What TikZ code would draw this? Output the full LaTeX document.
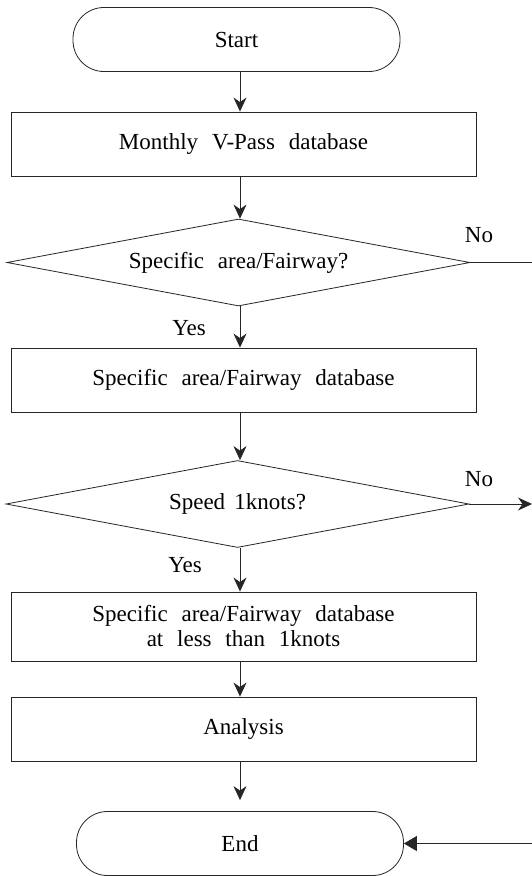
\documentclass[tikz,border=0pt]{standalone}
\usepackage{fontspec}
\setmainfont{Liberation Serif}
\usetikzlibrary{shapes.geometric,arrows.meta}
\newcommand\flowfont{\fontsize{23}{25}\selectfont\spaceskip 0.6em plus 0pt minus 0pt\relax}
\newcommand\flowfontnarrow{\fontsize{23}{25}\selectfont\spaceskip 0.4em plus 0pt minus 0pt\relax}
\tikzset{
  txt/.style={font=\flowfont},
  box/.style={txt, draw=black!85, line width=0.9pt, minimum width=465pt, minimum height=64pt, inner sep=0pt, align=center},
  term/.style={txt, draw=black!85, line width=0.8pt, rounded corners=31pt, minimum width=327pt, minimum height=64pt, inner sep=0pt},
  decision/.style={txt, draw=black!85, diamond, shape aspect=5.3, line width=0.8pt, minimum width=463pt, minimum height=87pt, inner sep=0pt},
  conn/.style={line width=0.8pt, draw=black!85},
  arr/.style={conn, -{Stealth[length=14pt,width=13pt,inset=4.5pt]}},
  endarr/.style={conn, -{Triangle[length=13pt,width=15pt]}},
  lbl/.style={txt, inner sep=0pt, anchor=base},
}
\begin{document}
\begin{tikzpicture}[x=1pt,y=1pt]
\fill[white] (0,0) rectangle (532,-876);
\useasboundingbox (0,0) rectangle (532,-876);
\coordinate (ax) at (240,0);
\coordinate (rx) at (532,0);

\node[term] (start) at (236.5,-39.5) {Start};
\node[box] (b1) at (243.5,-144) {Monthly V-Pass database};
\node[decision] (d1) at (238.5,-262.5) {Specific area/Fairway?};
\node[box] (b2) at (243.5,-380) {Specific area/Fairway database};
\node[decision, font=\flowfontnarrow] (d2) at (237.5,-504) {Speed 1knots?};
\node[box, minimum height=69pt] (b3) at (243.5,-626.5) {Specific area/Fairway database\\at less than 1knots};
\node[box] (b4) at (243.5,-729) {Analysis};
\node[term] (end) at (240,-843.5) {End};

\node[lbl] (no1) at (479,-242) {No};
\node[lbl] (no2) at (479,-486.5) {No};
\node[lbl] (yes1) at (189,-335) {Yes};
\node[lbl] (yes2) at (185,-572) {Yes};

\draw[arr] (start.south -| ax) -- (b1.north -| ax);
\draw[arr] (b1.south -| ax) -- (d1.north -| ax);
\draw[arr] (d1.south -| ax) -- (b2.north -| ax);
\draw[arr] (b2.south -| ax) -- (d2.north -| ax);
\draw[arr] (d2.south -| ax) -- (b3.north -| ax);
\draw[arr] (b3.south -| ax) -- (b4.north -| ax);
\draw[arr, shorten >=11pt] (b4.south -| ax) -- (end.north -| ax);

\draw[conn] (d1.east) -- (d1.east -| rx);
\draw[arr] (d2.east) -- (d2.east -| rx);
\draw[endarr] (end.east -| rx) -- (end.east);
\end{tikzpicture}
\end{document}
